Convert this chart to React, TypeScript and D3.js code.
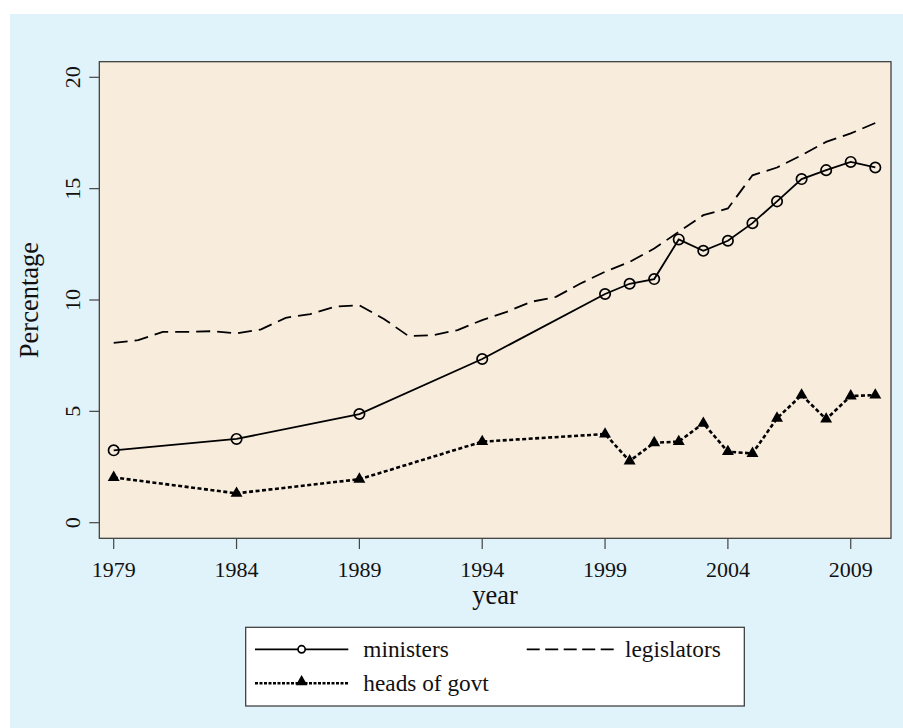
import { useRef, useEffect } from 'react'
import * as d3 from 'd3'

const ministerYears = [1979, 1984, 1989, 1994, 1999, 2000, 2001, 2002, 2003, 2004, 2005, 2006, 2007, 2008, 2009, 2010]
const ministerValues = [3.25, 3.76, 4.88, 7.35, 10.27, 10.73, 10.94, 12.72, 12.21, 12.66, 13.45, 14.43, 15.43, 15.83, 16.2, 15.95]

const legislatorYears = [
  1979, 1980, 1981, 1982, 1983, 1984, 1985, 1986, 1987, 1988, 1989, 1990, 1991, 1992, 1993, 1994, 1995, 1996, 1997, 1998, 1999,
  2000, 2001, 2002, 2003, 2004, 2005, 2006, 2007, 2008, 2009, 2010,
]
const legislatorValues = [
  8.07, 8.2, 8.57, 8.57, 8.6, 8.5, 8.68, 9.2, 9.37, 9.7, 9.76, 9.15, 8.38, 8.42, 8.65, 9.1, 9.47, 9.92, 10.14, 10.74, 11.27, 11.71,
  12.31, 13.06, 13.81, 14.11, 15.6, 15.95, 16.5, 17.1, 17.48, 17.95,
]

const headsYears = [1979, 1984, 1989, 1994, 1999, 2000, 2001, 2002, 2003, 2004, 2005, 2006, 2007, 2008, 2009, 2010]
const headsValues = [2.03, 1.32, 1.95, 3.64, 3.98, 2.77, 3.59, 3.64, 4.46, 3.19, 3.11, 4.69, 5.73, 4.65, 5.69, 5.73]

const yTicks = [0, 5, 10, 15, 20]
const xTicks = [1979, 1984, 1989, 1994, 1999, 2004, 2009]

const font = '"Liberation Serif", "Times New Roman", serif'
const outerBg = '#e0f2fa'
const plotBg = '#f8ecdd'
const axisColor = '#444'

function drawChart(target: SVGSVGElement) {
  const svg = d3.select(target)
  svg.selectAll('*').remove()

  const plot = { left: 99.3, top: 61.7, right: 891, bottom: 538.3 }

  const x = d3.scaleLinear().domain([1979, 2010]).range([113.7, 875.3])
  const y = d3.scaleLinear().domain([0, 20]).range([522.7, 77.3])

  svg.append('rect').attr('x', 10).attr('y', 14).attr('width', 893).attr('height', 714).attr('fill', outerBg)

  svg
    .append('rect')
    .attr('x', plot.left)
    .attr('y', plot.top)
    .attr('width', plot.right - plot.left)
    .attr('height', plot.bottom - plot.top)
    .attr('fill', plotBg)
    .attr('stroke', '#333')
    .attr('stroke-width', 1.2)

  // y axis
  const yAxis = svg.append('g')
  yTicks.forEach((t) => {
    yAxis
      .append('line')
      .attr('x1', 89.3)
      .attr('x2', plot.left)
      .attr('y1', y(t))
      .attr('y2', y(t))
      .attr('stroke', axisColor)
      .attr('stroke-width', 1.2)
    yAxis
      .append('text')
      .attr('transform', `translate(80,${y(t)}) rotate(-90)`)
      .attr('text-anchor', 'middle')
      .attr('font-family', font)
      .attr('font-size', 22)
      .attr('fill', '#111')
      .text(t)
  })

  // x axis
  const xAxis = svg.append('g')
  xTicks.forEach((t) => {
    xAxis
      .append('line')
      .attr('x1', x(t))
      .attr('x2', x(t))
      .attr('y1', plot.bottom)
      .attr('y2', 549)
      .attr('stroke', axisColor)
      .attr('stroke-width', 1.2)
    xAxis
      .append('text')
      .attr('x', x(t))
      .attr('y', 576.7)
      .attr('text-anchor', 'middle')
      .attr('font-family', font)
      .attr('font-size', 22)
      .attr('fill', '#111')
      .text(t)
  })

  svg
    .append('text')
    .attr('transform', `translate(38,${(plot.top + plot.bottom) / 2}) rotate(-90)`)
    .attr('text-anchor', 'middle')
    .attr('font-family', font)
    .attr('font-size', 26.5)
    .attr('fill', '#111')
    .text('Percentage')

  svg
    .append('text')
    .attr('x', (plot.left + plot.right) / 2)
    .attr('y', 604)
    .attr('text-anchor', 'middle')
    .attr('font-family', font)
    .attr('font-size', 26.5)
    .attr('fill', '#111')
    .text('year')

  const line = d3
    .line<[number, number]>()
    .x((d) => x(d[0]))
    .y((d) => y(d[1]))

  const legislators = legislatorYears.map((yr, i) => [yr, legislatorValues[i]] as [number, number])
  const ministers = ministerYears.map((yr, i) => [yr, ministerValues[i]] as [number, number])
  const heads = headsYears.map((yr, i) => [yr, headsValues[i]] as [number, number])

  svg
    .append('path')
    .datum(legislators)
    .attr('d', line)
    .attr('fill', 'none')
    .attr('stroke', '#000')
    .attr('stroke-width', 1.8)
    .attr('stroke-dasharray', '14,7')

  svg
    .append('path')
    .datum(ministers)
    .attr('d', line)
    .attr('fill', 'none')
    .attr('stroke', '#000')
    .attr('stroke-width', 1.8)

  svg
    .append('path')
    .datum(heads)
    .attr('d', line)
    .attr('fill', 'none')
    .attr('stroke', '#000')
    .attr('stroke-width', 2.6)
    .attr('stroke-dasharray', '4,2.5')

  svg
    .append('g')
    .selectAll('circle')
    .data(ministers)
    .enter()
    .append('circle')
    .attr('cx', (d) => x(d[0]))
    .attr('cy', (d) => y(d[1]))
    .attr('r', 5.2)
    .attr('fill', 'none')
    .attr('stroke', '#000')
    .attr('stroke-width', 1.7)

  const tri = d3.symbol(d3.symbolTriangle, 62)
  svg
    .append('g')
    .selectAll('path')
    .data(heads)
    .enter()
    .append('path')
    .attr('d', tri)
    .attr('transform', (d) => `translate(${x(d[0])},${y(d[1])})`)
    .attr('fill', '#000')

  // legend
  const legend = svg.append('g')
  legend
    .append('rect')
    .attr('x', 245.7)
    .attr('y', 627.3)
    .attr('width', 498.6)
    .attr('height', 78.7)
    .attr('fill', '#fff')
    .attr('stroke', '#333')
    .attr('stroke-width', 1.2)

  const row1 = 649.3
  const row2 = 683.3

  legend.append('line').attr('x1', 255).attr('x2', 348.3).attr('y1', row1).attr('y2', row1).attr('stroke', '#000').attr('stroke-width', 1.8)
  legend.append('circle').attr('cx', 301.6).attr('cy', row1).attr('r', 3.6).attr('fill', '#fff').attr('stroke', '#000').attr('stroke-width', 1.7)
  legend
    .append('text')
    .attr('x', 363.3)
    .attr('y', row1 + 8)
    .attr('font-family', font)
    .attr('font-size', 23.3)
    .attr('fill', '#111')
    .text('ministers')

  legend
    .append('line')
    .attr('x1', 526.7)
    .attr('x2', 618.3)
    .attr('y1', row1)
    .attr('y2', row1)
    .attr('stroke', '#000')
    .attr('stroke-width', 1.8)
    .attr('stroke-dasharray', '13,5.5')
  legend
    .append('text')
    .attr('x', 625)
    .attr('y', row1 + 8)
    .attr('font-family', font)
    .attr('font-size', 23.3)
    .attr('fill', '#111')
    .text('legislators')

  legend
    .append('line')
    .attr('x1', 255)
    .attr('x2', 348.3)
    .attr('y1', row2)
    .attr('y2', row2)
    .attr('stroke', '#000')
    .attr('stroke-width', 2.4)
    .attr('stroke-dasharray', '3,1.5')
  legend
    .append('path')
    .attr('d', d3.symbol(d3.symbolTriangle, 58)())
    .attr('transform', `translate(301.6,${row2 - 1.5})`)
    .attr('fill', '#000')
  legend
    .append('text')
    .attr('x', 363.3)
    .attr('y', row2 + 8)
    .attr('font-family', font)
    .attr('font-size', 23.3)
    .attr('fill', '#111')
    .text('heads of govt')
}

export default function App() {
  const targetSVG = useRef<SVGSVGElement>(null)

  useEffect(() => {
    if (targetSVG.current) drawChart(targetSVG.current)
  }, [])

  return (
    <div>
      <svg ref={targetSVG} width={903} height={728} style={{ position: 'fixed', top: 0, left: 0, background: '#fff' }} />
    </div>
  )
}
